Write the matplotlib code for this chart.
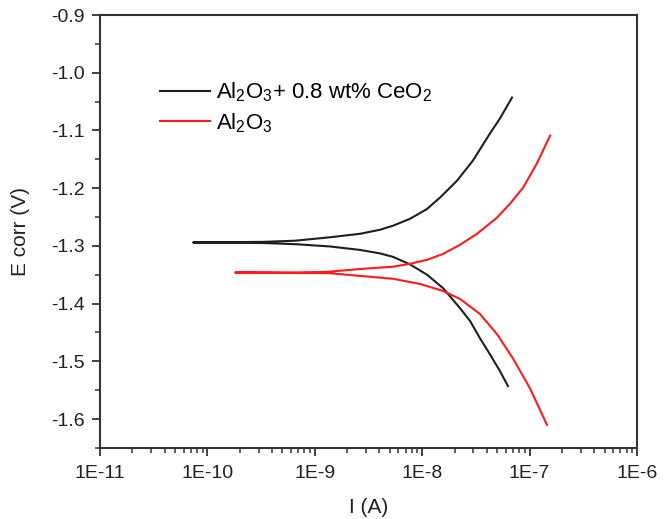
import numpy as np
import matplotlib
matplotlib.use("Agg")
import matplotlib.pyplot as plt
from matplotlib.ticker import FixedLocator, FuncFormatter, LogLocator, MultipleLocator

plt.rcParams["font.family"] = ["Liberation Sans", "DejaVu Sans"]
plt.rcParams["mathtext.default"] = "regular"

# Al2O3 + 0.8 wt% CeO2 : cathodic branch (high I -> Ecorr) then anodic branch
i_black = [6.29e-8, 5.30e-8, 4.28e-8, 3.45e-8, 2.79e-8, 2.25e-8, 1.56e-8, 1.11e-8, 7.70e-9,
           5.35e-9, 4.05e-9, 2.64e-9, 1.39e-9, 6.55e-10,
           3.30e-10, 7.35e-11,
           3.30e-10, 6.55e-10, 1.39e-9, 2.64e-9, 4.05e-9, 5.35e-9, 7.70e-9, 1.11e-8, 1.47e-8,
           2.11e-8, 2.97e-8, 4.28e-8, 5.30e-8, 6.86e-8]
e_black = [-1.543, -1.517, -1.488, -1.460, -1.430, -1.408, -1.373, -1.350, -1.332,
           -1.319, -1.313, -1.307, -1.301, -1.297,
           -1.295, -1.294,
           -1.293, -1.291, -1.285, -1.279, -1.272, -1.265, -1.253, -1.236, -1.216,
           -1.187, -1.152, -1.105, -1.079, -1.043]

# Al2O3
i_red = [1.45e-7, 1.01e-7, 7.0e-8, 4.97e-8, 3.45e-8, 2.25e-8, 1.56e-8, 9.55e-9, 5.35e-9,
         2.64e-9, 1.30e-9, 6.55e-10,
         1.81e-10,
         6.55e-10, 1.30e-9, 2.64e-9, 5.35e-9, 7.70e-9, 1.11e-8, 1.56e-8, 2.25e-8, 3.24e-8,
         4.97e-8, 6.56e-8, 8.7e-8, 1.17e-7, 1.55e-7]
e_red = [-1.610, -1.547, -1.495, -1.453, -1.418, -1.392, -1.378, -1.366, -1.357,
         -1.352, -1.347, -1.347,
         -1.346,
         -1.346, -1.345, -1.340, -1.336, -1.331, -1.324, -1.314, -1.298, -1.279,
         -1.251, -1.227, -1.199, -1.157, -1.109]

x_ticks = [1e-11, 1e-10, 1e-9, 1e-8, 1e-7, 1e-6]
y_ticks = [-0.9, -1.0, -1.1, -1.2, -1.3, -1.4, -1.5, -1.6]

fig = plt.figure(figsize=(6.67, 5.19), dpi=100)
ax = fig.add_axes([0.150, 0.137, 0.805, 0.834])

ax.plot(i_black, e_black, color="#1e1e1e", lw=1.5, label=r"Al$_2$O$_3$+ 0.8 wt% CeO$_2$")
ax.plot(i_red, e_red, color="#ff1a1a", lw=1.5, label=r"Al$_2$O$_3$")

ax.set_xscale("log")
ax.set_xlim(1e-11, 1e-6)
ax.set_ylim(-1.65, -0.9)

ax.xaxis.set_major_locator(FixedLocator(x_ticks))
ax.xaxis.set_minor_locator(LogLocator(base=10, subs=np.arange(2, 10)))
ax.xaxis.set_major_formatter(FuncFormatter(lambda v, p: "1E%d" % round(np.log10(v))))
ax.yaxis.set_major_locator(FixedLocator(y_ticks))
ax.yaxis.set_minor_locator(MultipleLocator(0.05))
ax.yaxis.set_major_formatter(FuncFormatter(lambda v, p: "%.1f" % v))

ax.tick_params(which="major", direction="out", length=6, width=1.3, color="#333333",
               labelsize=14, labelcolor="#222222", top=False, right=False)
ax.tick_params(axis="x", which="major", pad=6)
ax.tick_params(axis="y", which="major", pad=5)
ax.tick_params(which="minor", direction="out", length=3.5, width=1.1, color="#333333",
               top=False, right=False)
for s in ax.spines.values():
    s.set_color("#333333")
    s.set_linewidth(1.5)

ax.set_xlabel("I (A)", fontsize=15, color="#222222", labelpad=12)
ax.set_ylabel("E corr (V)", fontsize=15, color="#222222", labelpad=15)

ax.legend(loc="upper left", bbox_to_anchor=(0.095, 0.869), frameon=False, fontsize=16,
          handlelength=2.25, handletextpad=0.25, labelspacing=0.3, borderaxespad=0)

fig.savefig("out.png", dpi=100)
